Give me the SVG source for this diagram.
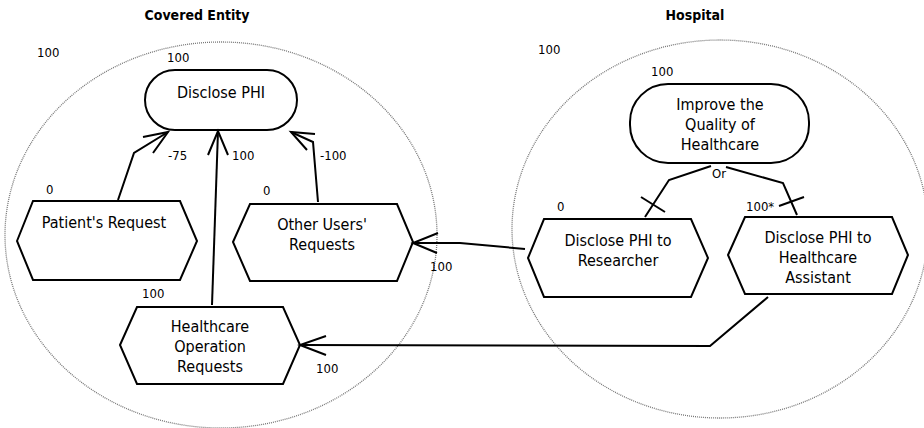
<svg xmlns="http://www.w3.org/2000/svg" width="924" height="428" viewBox="0 0 924 428">
<style>
text{font-family:"DejaVu Sans Condensed","DejaVu Sans",sans-serif;font-stretch:condensed;fill:#000}
.t{font-size:16px;text-anchor:middle}
.n{font-size:13px}
.h{font-size:14px;font-weight:bold;text-anchor:middle}
.b{fill:none;stroke:#777;stroke-width:1.3;stroke-dasharray:1 1}
.s{fill:#fff;stroke:#000;stroke-width:2}
.l{fill:none;stroke:#000;stroke-width:2}
</style>
<rect width="924" height="428" fill="#fff"/>
<g id="actor-covered-entity">
<ellipse class="b" cx="221" cy="235" rx="216" ry="193"/>
<text class="h" x="197" y="20">Covered Entity</text>
<text class="n" x="37" y="57">100</text>
</g>
<g id="actor-hospital">
<ellipse class="b" cx="720" cy="229" rx="208" ry="189"/>
<text class="h" x="695" y="20">Hospital</text>
<text class="n" x="538" y="54">100</text>
</g>
<g id="goal-disclose-phi">
<rect class="s" x="145" y="70" width="152" height="60" rx="30" ry="30"/>
<text class="t" x="221" y="98">Disclose PHI</text>
<text class="n" x="167" y="62">100</text>
</g>
<g id="goal-improve">
<rect class="s" x="630" y="84" width="179" height="79" rx="38" ry="38"/>
<text class="t" x="720" y="110">Improve the</text>
<text class="t" x="720" y="130">Quality of</text>
<text class="t" x="720" y="150">Healthcare</text>
<text class="n" x="651" y="76">100</text>
</g>
<g id="task-patient">
<polygon class="s" points="17,241 33,201 180,201 197,241 180,280 33,280"/>
<text class="t" x="104" y="228">Patient's Request</text>
<text class="n" x="46" y="194">0</text>
</g>
<g id="task-other-users">
<polygon class="s" points="233,242 250,204 397,204 413,242 397,281 250,281"/>
<text class="t" x="322" y="230">Other Users'</text>
<text class="t" x="322" y="250">Requests</text>
<text class="n" x="263" y="195">0</text>
</g>
<g id="task-healthcare-op">
<polygon class="s" points="120,345 137,307 283,307 300,345 283,384 137,384"/>
<text class="t" x="210" y="332">Healthcare</text>
<text class="t" x="210" y="352">Operation</text>
<text class="t" x="210" y="372">Requests</text>
<text class="n" x="142" y="298">100</text>
</g>
<g id="task-researcher">
<polygon class="s" points="528,258 544,219 691,219 708,258 691,297 544,297"/>
<text class="t" x="618" y="246">Disclose PHI to</text>
<text class="t" x="618" y="266">Researcher</text>
<text class="n" x="557" y="211">0</text>
</g>
<g id="task-assistant">
<polygon class="s" points="728,255 745,217 892,217 908,255 892,294 745,294"/>
<text class="t" x="818" y="243">Disclose PHI to</text>
<text class="t" x="818" y="263">Healthcare</text>
<text class="t" x="818" y="283">Assistant</text>
<text class="n" x="746" y="211">100*</text>
</g>
<g id="connectors">
<polyline class="l" points="118,200 134,153 168,132"/>
<polyline class="l" points="143,137 168,132 153,153"/>
<text class="n" x="168" y="160">-75</text>
<polyline class="l" points="212,305 218,131"/>
<polyline class="l" points="208,155 218,131 228,155"/>
<text class="n" x="232" y="160">100</text>
<polyline class="l" points="318,202 313,142 291,132"/>
<polyline class="l" points="315,134 291,132 307,150"/>
<text class="n" x="320" y="160">-100</text>
<polyline class="l" points="525,249 460,243 413,243"/>
<polyline class="l" points="438,233 413,243 437,253"/>
<text class="n" x="430" y="271">100</text>
<polyline class="l" points="768,297 710,346 300,345"/>
<polyline class="l" points="326,336 300,345 326,355"/>
<text class="n" x="316" y="373">100</text>
<polyline class="l" points="711,166 669,180 645,217"/>
<line class="l" x1="641" y1="197" x2="665" y2="212"/>
<polyline class="l" points="726,167 783,183 797,215"/>
<line class="l" x1="779" y1="206" x2="804" y2="197"/>
<text class="n" x="719" y="178" text-anchor="middle">Or</text>
</g>
</svg>
